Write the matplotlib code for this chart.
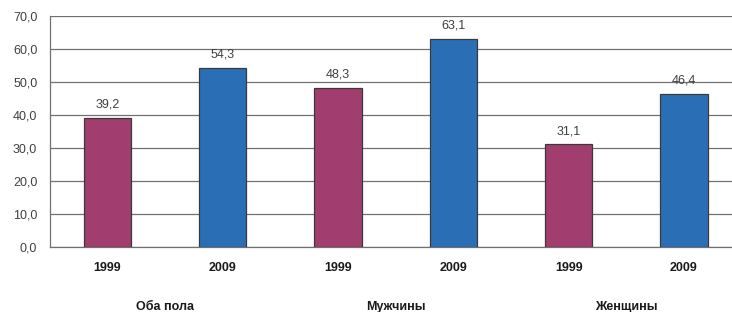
import matplotlib
matplotlib.use("Agg")
import matplotlib.pyplot as plt
from matplotlib.ticker import FuncFormatter, MultipleLocator

plt.rcParams['font.family'] = ['Liberation Sans', 'DejaVu Sans']

groups = ["Оба пола", "Мужчины", "Женщины"]
years = ["1999", "2009"]
values_1999 = [39.2, 48.3, 31.1]
values_2009 = [54.3, 63.1, 46.4]

colors = {"1999": "#A23D6F", "2009": "#2A6EB6"}

fig = plt.figure(figsize=(7.32, 3.12), dpi=100)
ax = fig.add_axes([49.8 / 732, 65 / 312, 691.8 / 732, 231 / 312])

xs, heights, cols, ticklabels = [], [], [], []
i = 0
for g, v99, v09 in zip(groups, values_1999, values_2009):
    for y, v in zip(years, (v99, v09)):
        xs.append(i)
        heights.append(v)
        cols.append(colors[y])
        ticklabels.append(y)
        i += 1

bars = ax.bar(xs, heights, width=0.41, color=cols, edgecolor="#3a3a3a",
              linewidth=0.9, zorder=3)
for x, h in zip(xs, heights):
    ax.annotate(f"{h:.1f}".replace(".", ","), xy=(x, h), xytext=(0, 5),
                textcoords="offset points", ha="center", va="bottom",
                fontsize=9, color="#404040", zorder=4)

ax.set_xlim(-0.5, len(xs) - 0.5)
ax.set_ylim(0, 70)
ax.yaxis.set_major_locator(MultipleLocator(10))
ax.yaxis.set_major_formatter(FuncFormatter(lambda v, p: f"{v:.1f}".replace(".", ",")))
ax.grid(axis="y", color="#707070", linewidth=0.9, zorder=0)
ax.set_axisbelow(True)

ax.set_xticks(xs)
ax.set_xticklabels(ticklabels, fontsize=9, fontweight="bold", color="#1a1a1a")
ax.tick_params(axis="x", length=0, pad=11)
ax.tick_params(axis="y", length=0, pad=9, labelsize=9, labelcolor="#404040")

for s in ("top", "right"):
    ax.spines[s].set_visible(False)
for s in ("left", "bottom"):
    ax.spines[s].set_color("#707070")
    ax.spines[s].set_linewidth(0.9)

for k, g in enumerate(groups):
    cx = 2 * k + 0.5
    ax.annotate(g, xy=(cx, 0), xycoords=("data", "axes fraction"),
                xytext=(0, -43), textcoords="offset points",
                ha="center", va="center", fontsize=9, fontweight="bold",
                color="#1a1a1a")

fig.savefig("out.png", dpi=100)
